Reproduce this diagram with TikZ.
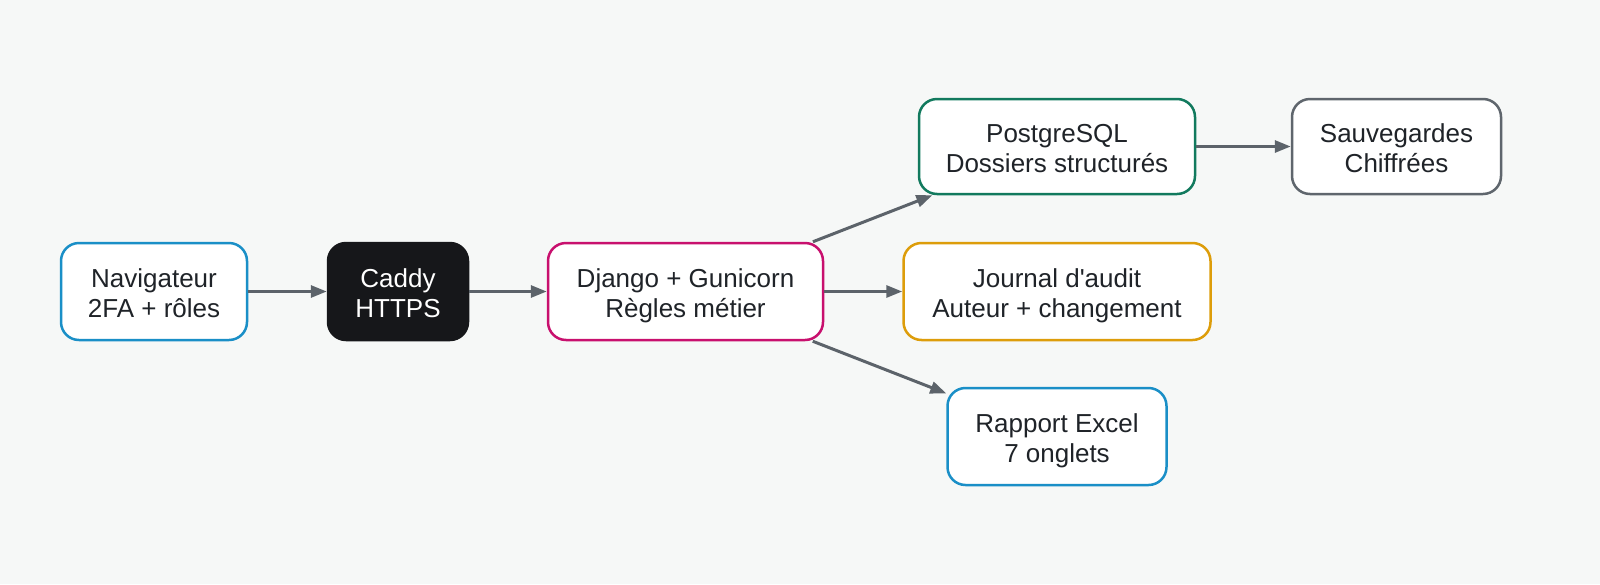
\documentclass[tikz,border=0pt]{standalone}
\usepackage{fontspec}
\newfontfamily\boxfont{Liberation Sans}
\usetikzlibrary{arrows.meta}
\definecolor{bg}{HTML}{F6F8F7}
\definecolor{cblue}{HTML}{1A8FC7}
\definecolor{cmag}{HTML}{C8106E}
\definecolor{cgreen}{HTML}{127A5E}
\definecolor{corange}{HTML}{DD9D0A}
\definecolor{cgrey}{HTML}{5F666D}
\definecolor{cdark}{HTML}{16171A}
\definecolor{carrow}{HTML}{5C636A}
\definecolor{ctext}{HTML}{1F2328}
\newcommand\hitop{\rule{0pt}{28pt}}
\newcommand\lowbot{\rule[-7pt]{0pt}{7pt}}
\tikzset{
  box/.style={draw, line width=2.5pt, rounded corners=18pt, fill=white, align=center,
    minimum height=97pt, inner sep=0pt, text=ctext,
    font=\boxfont\fontsize{26}{30}\selectfont},
  darkbox/.style={box, draw=cdark, fill=cdark, text=white},
  conn/.style={draw=carrow, line width=3pt, -{Triangle[length=16pt,width=12pt]}, shorten >=0pt}
}
\begin{document}
\begin{tikzpicture}[x=1pt,y=-1pt]
\fill[bg] (0,0) rectangle (1600,584);
\useasboundingbox (0,0) rectangle (1600,584);
\node[box, draw=cblue, minimum width=186pt] (nav) at (154,291.5) {\hitop Navigateur\\2FA + rôles\lowbot};
\node[darkbox, minimum width=140pt] (caddy) at (398,291.5) {\hitop Caddy\\HTTPS\lowbot};
\node[box, draw=cmag, minimum width=275pt] (django) at (685.5,291.5) {\hitop Django + Gunicorn\\Règles métier\lowbot};
\node[box, draw=cgreen, minimum width=276pt, minimum height=95pt] (pg) at (1057,146.5) {\hitop PostgreSQL\\Dossiers structurés\lowbot};
\node[box, draw=cgrey, minimum width=209pt, minimum height=95pt] (save) at (1396.5,146.5) {\hitop Sauvegardes\\Chiffrées\lowbot};
\node[box, draw=corange, minimum width=307pt] (journal) at (1057,291.5) {\hitop Journal d'audit\\Auteur + changement\lowbot};
\node[box, draw=cblue, minimum width=219pt] (excel) at (1057,436.5) {\hitop Rapport Excel\\7 onglets\lowbot};
\draw[conn] (nav) -- (caddy);
\draw[conn] (caddy) -- (django);
\draw[conn] (django) -- (pg);
\draw[conn] (django) -- (journal);
\draw[conn] (django) -- (excel);
\draw[conn] (pg) -- (save);
\end{tikzpicture}
\end{document}
